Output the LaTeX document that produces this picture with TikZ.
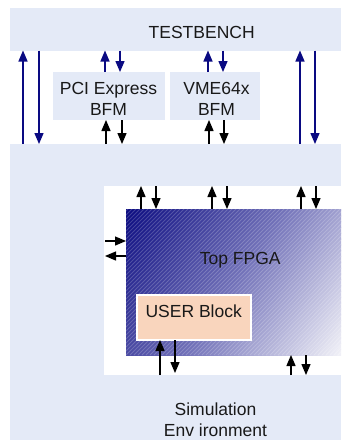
\documentclass[tikz,border=0pt]{standalone}
\usepackage{fontspec}
\setmainfont{Liberation Sans}
\usetikzlibrary{arrows.meta,calc}
\definecolor{lightbg}{RGB}{228,234,247}
\definecolor{navyarrow}{RGB}{10,10,130}
\definecolor{peach}{RGB}{249,213,189}
\tikzset{
  box/.style={rectangle, inner sep=0pt, outer sep=0pt, anchor=north west},
  lbl/.style={inner sep=0pt, font=\fontsize{17.5}{21}\selectfont, text=black!90, align=center},
  barrow/.style={draw=navyarrow, line width=1.3pt, -{Triangle[length=11pt,width=9pt]}},
  karrow/.style={draw=black, line width=1.3pt, -{Triangle[length=11pt,width=9pt]}},
  hatch/.style={draw=white, draw opacity=0.2, line width=0.8pt},
}
\begin{document}
\begin{tikzpicture}[x=1pt,y=-1pt]
\useasboundingbox (0,0) rectangle (341,440);
% boxes
\node[box, fill=lightbg, minimum width=331pt, minimum height=42.5pt] (tb) at (10,8) {};
\node[box, fill=lightbg, minimum width=331pt, minimum height=296pt] (sim) at (10,144) {};
\node[box, fill=lightbg, minimum width=112pt, minimum height=48pt] (pci) at (53,72) {};
\node[box, fill=lightbg, minimum width=90pt, minimum height=48pt] (vme) at (170,72) {};
\node[box, fill=white, minimum width=237pt, minimum height=189pt] (wb) at (104,186) {};
\node[box, minimum width=215pt, minimum height=146pt] (fpga) at (126,209) {};
% diagonal gradient of the FPGA block
\begin{scope}
  \clip (fpga.north west) rectangle (fpga.south east);
  \begin{scope}[shift={(fpga.center)}, rotate=-34]
    \foreach \i in {0,...,79} {
      \pgfmathsetmacro\t{(\i+0.5)/80}
      \pgfmathtruncatemacro\rr{\t<0.5 ? 10+204*\t : 112+260*(\t-0.5)}
      \pgfmathtruncatemacro\bb{\t<0.5 ? 128+112*\t : 184+128*(\t-0.5)}
      \definecolor{stripe}{RGB}{\rr,\rr,\bb}
      \pgfmathsetmacro\p{-130+\i*3.25}
      \fill[stripe] (\p,-200) rectangle ({\p+3.75},200);
    }
  \end{scope}
  \foreach \i in {-152,-148,...,220}
    \draw[hatch] ($(fpga.south west)+(\i,0)$) -- ++(152,-152);
\end{scope}
\node[box, fill=peach, draw=white, line width=2pt, minimum width=114pt, minimum height=45pt] (user) at (137,295) {};
% testbench <-> simulation environment (blue)
\draw[barrow] ($(sim.north west)+(13,0)$) -- ($(tb.south west)+(13,0)$);
\draw[barrow] ($(tb.south west)+(29,0)$) -- ($(sim.north west)+(29,0)$);
\draw[barrow] ($(sim.north west)+(290,0)$) -- ($(tb.south west)+(290,0)$);
\draw[barrow] ($(tb.south west)+(305,0)$) -- ($(sim.north west)+(305,0)$);
% BFMs <-> testbench (blue)
\draw[barrow] ($(pci.north west)+(52,0)$) -- ($(tb.south west)+(95,0)$);
\draw[barrow] ($(tb.south west)+(110,0)$) -- ($(pci.north west)+(67,0)$);
\draw[barrow] ($(vme.north west)+(38,0)$) -- ($(tb.south west)+(198,0)$);
\draw[barrow] ($(tb.south west)+(213,0)$) -- ($(vme.north west)+(53,0)$);
% BFMs <-> simulation environment (black)
\draw[karrow] ($(sim.north west)+(96,0)$) -- ($(pci.south west)+(53,0)$);
\draw[karrow] ($(pci.south west)+(69,0)$) -- ($(sim.north west)+(112,0)$);
\draw[karrow] ($(sim.north west)+(199,0)$) -- ($(vme.south west)+(39,0)$);
\draw[karrow] ($(vme.south west)+(54,0)$) -- ($(sim.north west)+(214,0)$);
% FPGA top
\draw[karrow] ($(fpga.north west)+(15,0)$) -- ($(wb.north west)+(37,0)$);
\draw[karrow] ($(wb.north west)+(52,0)$) -- ($(fpga.north west)+(30,0)$);
\draw[karrow] ($(fpga.north west)+(86,0)$) -- ($(wb.north west)+(108,0)$);
\draw[karrow] ($(wb.north west)+(123,0)$) -- ($(fpga.north west)+(101,0)$);
\draw[karrow] ($(fpga.north west)+(175,0)$) -- ($(wb.north west)+(197,0)$);
\draw[karrow] ($(wb.north west)+(212,0)$) -- ($(fpga.north west)+(190,0)$);
% FPGA left
\draw[karrow] ($(wb.north west)+(1,55)$) -- ($(fpga.north west)+(0,32)$);
\draw[karrow] ($(fpga.north west)+(0,47)$) -- ($(wb.north west)+(1,70)$);
% bottom
\draw[karrow] ($(wb.south west)+(56,0)$) -- ($(user.south west)+(23,0)$);
\draw[karrow] ($(user.south west)+(38,0)$) -- ($(wb.south west)+(71,-2)$);
\draw[karrow] ($(wb.south west)+(187,0)$) -- ($(fpga.south west)+(165,0)$);
\draw[karrow] ($(fpga.south west)+(180,0)$) -- ($(wb.south west)+(202,0)$);
% labels
\node[lbl] (tbl) at (201.7,32) {TESTBENCH};
\node[lbl] (pcil) at (108.5,98.5) {PCI Express\\BFM};
\node[lbl] (vmel) at (216.5,98.5) {VME64x\\BFM};
\node[lbl] (fpgal) at (240.3,260) {Top FPGA};
\node[lbl] (userl) at (193.7,311) {USER Block};
\node[lbl] (siml) at (215.5,420) {Simulation\\Env ironment};
\end{tikzpicture}
\end{document}
